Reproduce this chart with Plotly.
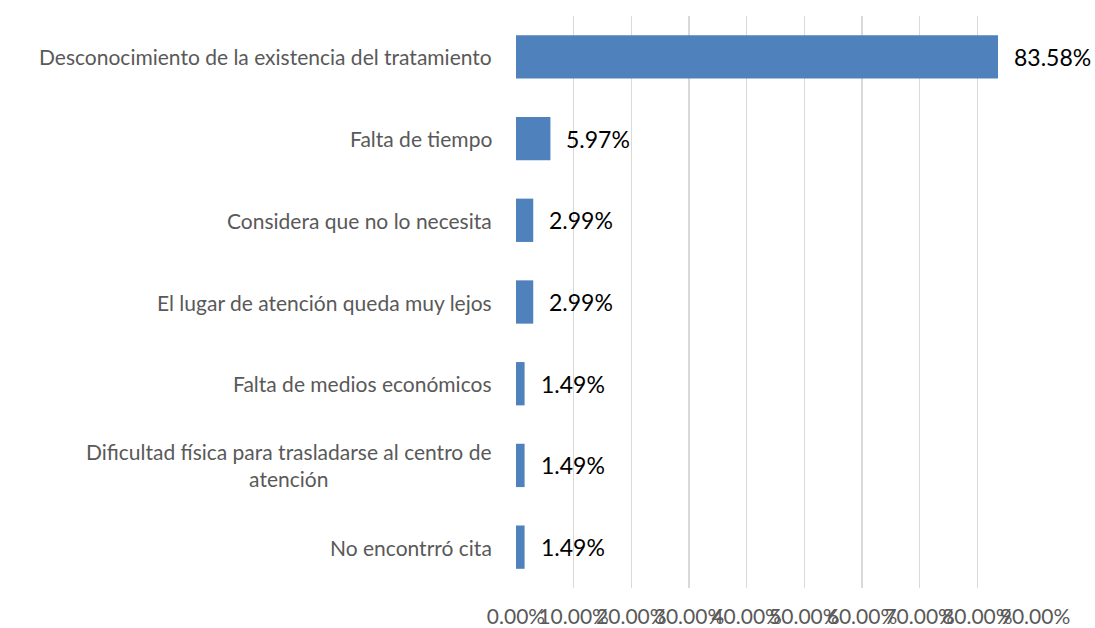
import plotly.graph_objects as go

categories = [
    "Desconocimiento de la existencia del tratamiento",
    "Falta de tiempo",
    "Considera que no lo necesita",
    "El lugar de atención queda muy lejos",
    "Falta de medios económicos",
    "Dificultad física para trasladarse al centro de<br>atención",
    "No encontrró cita",
]
values = [83.58, 5.97, 2.99, 2.99, 1.49, 1.49, 1.49]
tick_vals = [0, 10, 20, 30, 40, 50, 60, 70, 80, 90]

FONT = "Lato"
GREY = "#595959"

fig = go.Figure()
fig.add_trace(go.Bar(
    x=values,
    y=categories,
    orientation="h",
    marker=dict(color="#4F81BD", line=dict(width=0)),
    hoverinfo="skip",
))

annotations = []
for c, v in zip(categories, values):
    annotations.append(dict(
        x=v, y=c, xref="x", yref="y", text=f"{v:.2f}%",
        xanchor="left", yanchor="middle", xshift=14, showarrow=False,
        font=dict(family=FONT, size=23, color="#000000"),
    ))
    annotations.append(dict(
        x=0, y=c, xref="paper", yref="y", text=c,
        xanchor="right", yanchor="middle", xshift=-22, showarrow=False,
        align="center",
        font=dict(family=FONT, size=21, color=GREY),
    ))

fig.update_layout(
    width=1095, height=628,
    margin=dict(l=516, r=60, t=16, b=40),
    paper_bgcolor="white", plot_bgcolor="white",
    showlegend=False,
    bargap=0.47,
    annotations=annotations,
    font=dict(family=FONT, color=GREY),
)
fig.update_xaxes(
    range=[0, 90], tickmode="array", tickvals=tick_vals,
    ticktext=[f"{t:.2f}%" for t in tick_vals],
    tickangle=0, showgrid=True, gridcolor="#D9D9D9", gridwidth=1.5,
    zeroline=False, showline=False, ticks="", automargin=False,
    tickfont=dict(family=FONT, size=21, color=GREY),
    ticklabelstandoff=14,
)
fig.update_yaxes(
    categoryorder="array", categoryarray=categories, autorange="reversed",
    showticklabels=False, showgrid=False, zeroline=False, showline=False, ticks="",
    automargin=False,
)

fig.write_html(
    "out.html",
    config={"displayModeBar": False, "staticPlot": True},
    post_script="document.body.style.margin='0';document.body.style.overflow='hidden';",
)
